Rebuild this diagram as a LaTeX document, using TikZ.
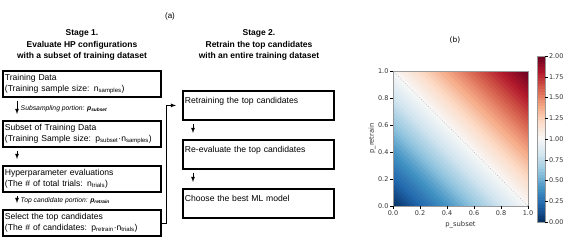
\documentclass[tikz,border=0pt]{standalone}
\usepackage{fontspec}
\setmainfont{Liberation Sans}
\newfontfamily\plotfont{DejaVu Sans}
\usepackage{tikz}
\usetikzlibrary{arrows, positioning}

%Farben der Skala (RdBu, umgekehrt)
\definecolor{rb0}{HTML}{053061}
\definecolor{rb1}{HTML}{2166AC}
\definecolor{rb2}{HTML}{4393C3}
\definecolor{rb3}{HTML}{92C5DE}
\definecolor{rb4}{HTML}{D1E5F0}
\definecolor{rb5}{HTML}{F7F7F7}
\definecolor{rb6}{HTML}{FDDBC7}
\definecolor{rb7}{HTML}{F4A582}
\definecolor{rb8}{HTML}{D6604D}
\definecolor{rb9}{HTML}{B2182B}
\definecolor{rb10}{HTML}{67001F}

\begin{document}
\begin{tikzpicture}[x=1pt, y=-1pt, >=latex,
			stagebox/.style={draw, line width=1.8pt, anchor=north west, inner sep=2pt, align=left, text width=#1, font=\fontsize{8.6}{11}\selectfont},
			headline/.style={align=center, font=\fontsize{8.5}{11.5}\selectfont\bfseries},
			portion/.style={right, font=\fontsize{6.8}{8}\selectfont\itshape},
			flow/.style={->, line width=0.8pt, shorten <=3pt, shorten >=6pt},
			ticklab/.style={font=\plotfont\fontsize{6.5}{7}\selectfont, text=black!80, inner sep=1pt}]
			%Rahmen
			\useasboundingbox (0,0) rectangle (568,250);
			%Ueberschriften
			\node (tagA) at (170,16) {\fontsize{8}{9}\selectfont (a)};
			\node[headline] (head1) at (82,45) {Stage 1.\\Evaluate HP configurations\\with a subset of training dataset};
			\node[headline] (head2) at (259,45) {Stage 2.\\Retrain the top candidates\\with an entire training dataset};
			%Kaesten Stufe 1
			\node[stagebox=154pt, minimum height=26pt] (train) at (2,70) {Training Data\\(Training sample size: n\textsubscript{samples})};
			\node[stagebox=154pt, minimum height=26pt] (subset) at (2,120) {Subset of Training Data\\(Training Sample size: p\textsubscript{subset}·n\textsubscript{samples})};
			\node[stagebox=154pt, minimum height=26pt] (hpeval) at (2,165) {Hyperparameter evaluations\\(The \# of total trials: n\textsubscript{trials})};
			\node[stagebox=154pt, minimum height=26pt] (select) at (2,209) {Select the top candidates\\(The \# of candidates: p\textsubscript{retrain}·n\textsubscript{trials})};
			%Kaesten Stufe 2
			\node[stagebox=147pt, minimum height=29pt] (retrain) at (182,90) {Retraining the top candidates\\\mbox{}};
			\node[stagebox=147pt, minimum height=29pt] (reeval) at (182,139) {Re-evaluate the top candidates\\\mbox{}};
			\node[stagebox=147pt, minimum height=29pt] (best) at (182,188) {Choose the best ML model\\\mbox{}};
			%Pfeile
			\draw[flow] ([xshift=15pt]train.south west) -- node[portion] {Subsampling portion: \textbf{p\textsubscript{subset}}} ([xshift=15pt]subset.north west);
			\draw[flow] ([xshift=15pt]subset.south west) -- ([xshift=15pt]hpeval.north west);
			\draw[flow] ([xshift=15pt]hpeval.south west) -- node[portion] {Top candidate portion: \textbf{p\textsubscript{retrain}}} ([xshift=15pt]select.north west);
			\draw[->, line width=0.8pt, shorten >=6pt] (select.east) -- ++(5,0) |- (retrain.west);
			\draw[flow] ([xshift=11pt]retrain.south west) -- ([xshift=11pt]reeval.north west);
			\draw[flow] ([xshift=11pt]reeval.south west) -- ([xshift=11pt]best.north west);
			%Heatmap
			\node[font=\plotfont\fontsize{7.5}{9}\selectfont] (tagB) at (455,40) {(b)};
			\begin{scope}[shift={(393,206)}, x=135pt, y=135pt]
				\begin{scope}
					\clip (0,0) rectangle (1,1);
					\foreach \i in {0,...,59} {
						\pgfmathsetmacro{\t}{(\i+0.5)/6}
						\pgfmathtruncatemacro{\k}{floor(\t)}
						\pgfmathtruncatemacro{\kk}{\k+1}
						\pgfmathtruncatemacro{\f}{100*(\t-\k)}
						\fill[rb\kk!\f!rb\k] (\i/30,0) -- ({(\i+1.3)/30},0) -- (0,{(\i+1.3)/30}) -- (0,\i/30) -- cycle;
					}
				\end{scope}
				\draw[gray!70, line width=0.5pt, dotted] (0,1) -- (1,0);
				\draw[gray!80, line width=0.6pt] (0,0) rectangle (1,1);
				\foreach \v in {0.0,0.2,0.4,0.6,0.8,1.0} {
					\draw[line width=0.4pt] (\v,0) -- (\v,-0.025) node[below, ticklab] {\v};
					\draw[line width=0.4pt] (0,\v) -- (-0.025,\v) node[left, ticklab] {\v};
				}
				\node[ticklab, font=\plotfont\fontsize{6.8}{8}\selectfont] (xlab) at (0.5,-0.135) {p\_subset};
				\node[ticklab, font=\plotfont\fontsize{6.8}{8}\selectfont, rotate=90] (ylab) at (-0.155,0.5) {p\_retrain};
			\end{scope}
			%Farbskala
			\begin{scope}[shift={(537,222)}, x=8pt, y=166pt]
				\foreach \i in {0,...,59} {
					\pgfmathsetmacro{\t}{(\i+0.5)/6}
					\pgfmathtruncatemacro{\k}{floor(\t)}
					\pgfmathtruncatemacro{\kk}{\k+1}
					\pgfmathtruncatemacro{\f}{100*(\t-\k)}
					\fill[rb\kk!\f!rb\k] (0,\i/60) rectangle (1,{min((\i+1.3)/60,1)});
				}
				\draw[gray!80, line width=0.6pt] (0,0) rectangle (1,1);
				\foreach \v/\lab in {0/0.00,0.125/0.25,0.25/0.50,0.375/0.75,0.5/1.00,0.625/1.25,0.75/1.50,0.875/1.75,1/2.00}
					\draw[line width=0.4pt] (1,\v) -- (1.35,\v) node[right, ticklab] {\lab};
			\end{scope}
		\end{tikzpicture}
\end{document}
